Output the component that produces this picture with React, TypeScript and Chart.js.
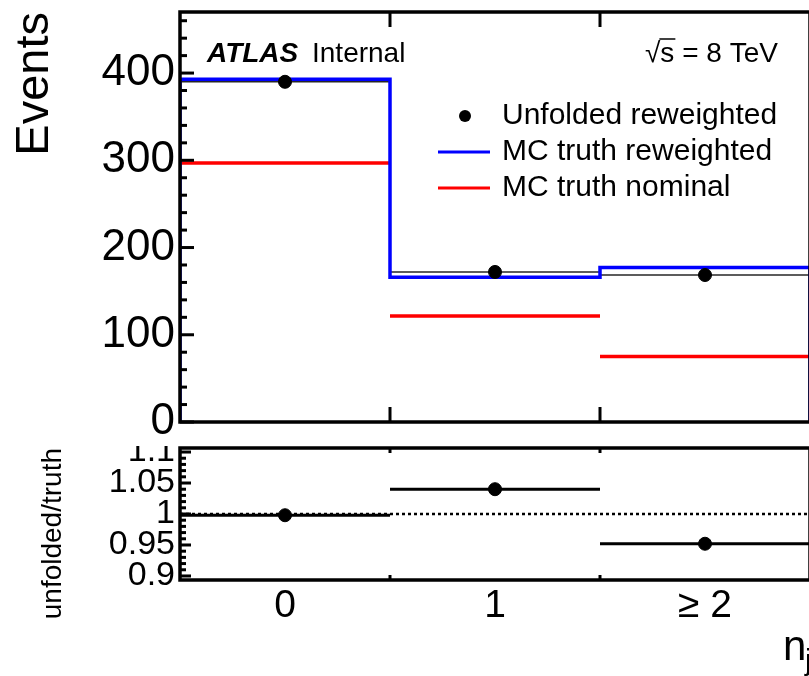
import React, { useEffect, useRef } from "react";
import { Chart, registerables } from "chart.js";
Chart.register(...registerables);

// ---------- data ----------
const binLabels = ["0", "1", "≥ 2"];
const binCenters = [0, 1, 2];
const binEdges = [-0.5, 0.5, 1.5, 2.5];
const unfoldedReweighted = [390, 172, 168.5];
const mcTruthReweighted = [393, 166, 177];
const mcTruthNominal = [297, 121.5, 75];
const ratioValues = [0.998, 1.04, 0.952];
const ratioErrors = [0.002, 0.002, 0.005];
const eventsTicks = [0, 100, 200, 300, 400];
const ratioTicks = [0.9, 0.95, 1, 1.05, 1.1];
const ratioReference = 1;
const seriesNames = ["Unfolded reweighted", "MC truth reweighted", "MC truth nominal"];

const FONT = "'Liberation Sans', Arial, Helvetica, sans-serif";
const BLUE = "#0000ff";
const RED = "#ff0000";

function stepPoints(vals: number[]) {
  const pts: any[] = [{ x: binEdges[0], y: 0 }];
  vals.forEach((v, i) => {
    pts.push({ x: binEdges[i], y: v });
    pts.push({ x: binEdges[i + 1], y: v });
  });
  pts.push({ x: binEdges[binEdges.length - 1], y: 0 });
  return pts;
}

function segmentPoints(vals: number[]) {
  const pts: any[] = [];
  vals.forEach((v, i) => {
    pts.push({ x: binEdges[i], y: v });
    pts.push({ x: binEdges[i + 1], y: v });
    if (i < vals.length - 1) pts.push({ x: binEdges[i + 1], y: null });
  });
  return pts;
}

function vErrPoints(vals: number[], errs: number[]) {
  const pts: any[] = [];
  vals.forEach((v, i) => {
    pts.push({ x: binCenters[i], y: v - errs[i] });
    pts.push({ x: binCenters[i], y: v + errs[i] });
    if (i < vals.length - 1) pts.push({ x: binCenters[i], y: null });
  });
  return pts;
}

function strokeLine(ctx: CanvasRenderingContext2D, x1: number, y1: number, x2: number, y2: number) {
  ctx.beginPath();
  ctx.moveTo(x1, y1);
  ctx.lineTo(x2, y2);
  ctx.stroke();
}

function noPad(s: any) {
  s.paddingTop = 0;
  s.paddingBottom = 0;
  s.paddingLeft = 0;
  s.paddingRight = 0;
}

const topDecor = {
  id: "topDecor",
  afterDatasetsDraw(chart: any) {
    const { ctx, chartArea: a, scales } = chart;
    const x = scales.x;
    const y = scales.y;
    ctx.save();
    ctx.strokeStyle = "#000";
    ctx.lineWidth = 3.5;
    ctx.strokeRect(a.left, a.top, a.right - a.left, a.bottom - a.top);
    ctx.lineWidth = 3;
    for (let v = 0; v <= y.max; v += 20) {
      const py = y.getPixelForValue(v);
      const len = v % 100 === 0 ? 14 : 7;
      strokeLine(ctx, a.left, py, a.left + len, py);
    }
    binEdges.slice(1, -1).forEach((e) => {
      const px = x.getPixelForValue(e);
      strokeLine(ctx, px, a.bottom, px, a.bottom - 15);
      strokeLine(ctx, px, a.top, px, a.top + 15);
    });

    // ATLAS label
    ctx.fillStyle = "#000";
    ctx.textBaseline = "alphabetic";
    ctx.textAlign = "left";
    ctx.font = `italic bold 28px ${FONT}`;
    ctx.fillText("ATLAS", 207, 62);
    ctx.font = `28px ${FONT}`;
    ctx.fillText("Internal", 312, 62);
    ctx.font = `28px ${FONT}`;
    const sx = 645;
    ctx.fillText("√s = 8 TeV", sx, 62);
    const wRad = ctx.measureText("√").width;
    const wRadS = ctx.measureText("√s").width;
    ctx.lineWidth = 1.5;
    strokeLine(ctx, sx + wRad - 1, 39, sx + wRadS + 1, 39);

    // legend
    const rows = [116, 152, 188];
    ctx.font = `30px ${FONT}`;
    ctx.textBaseline = "middle";
    ctx.beginPath();
    ctx.arc(465, rows[0], 6, 0, Math.PI * 2);
    ctx.fill();
    ctx.lineWidth = 3;
    ctx.strokeStyle = BLUE;
    strokeLine(ctx, 438, rows[1], 490, rows[1]);
    ctx.strokeStyle = RED;
    strokeLine(ctx, 438, rows[2], 490, rows[2]);
    seriesNames.forEach((n, i) => ctx.fillText(n, 502, rows[i]));
    ctx.restore();
  },
};

const ratioDecor = {
  id: "ratioDecor",
  afterDatasetsDraw(chart: any) {
    const { ctx, chartArea: a, scales } = chart;
    const x = scales.x;
    const y = scales.y;
    ctx.save();
    ctx.strokeStyle = "#000";
    ctx.lineWidth = 3.5;
    ctx.strokeRect(a.left, a.top, a.right - a.left, a.bottom - a.top);
    ctx.lineWidth = 3;
    for (let k = 90; k <= 110; k += 1) {
      const v = k / 100;
      const py = y.getPixelForValue(v);
      const len = k % 5 === 0 ? 11 : 6;
      strokeLine(ctx, a.left, py, a.left + len, py);
    }
    binEdges.slice(1, -1).forEach((e) => {
      const px = x.getPixelForValue(e);
      strokeLine(ctx, px, a.bottom, px, a.bottom - 5);
      strokeLine(ctx, px, a.top, px, a.top + 5);
    });
    // x-axis title
    ctx.fillStyle = "#000";
    ctx.textAlign = "left";
    ctx.textBaseline = "alphabetic";
    ctx.font = `42px ${FONT}`;
    ctx.fillText("n", 783, 660 - 446);
    ctx.font = `30px ${FONT}`;
    ctx.fillText("jets", 805, 670 - 446);
    ctx.restore();
  },
};

export default function App() {
  const topRef = useRef<HTMLCanvasElement>(null);
  const botRef = useRef<HTMLCanvasElement>(null);

  useEffect(() => {
    const top = new Chart(topRef.current as HTMLCanvasElement, {
      type: "line",
      data: {
        datasets: [
          {
            label: seriesNames[0],
            type: "scatter",
            data: binCenters.map((c, i) => ({ x: c, y: unfoldedReweighted[i] })),
            backgroundColor: "#000",
            borderColor: "#000",
            pointRadius: 6.5,
            showLine: false,
            order: 0,
          } as any,
          {
            label: seriesNames[1],
            data: stepPoints(mcTruthReweighted),
            borderColor: BLUE,
            borderWidth: 3.5,
            pointRadius: 0,
            tension: 0,
            order: 1,
          },
          {
            label: "unfolded bars",
            data: segmentPoints(unfoldedReweighted),
            borderColor: "rgba(0,0,0,0.85)",
            borderWidth: 1.5,
            pointRadius: 0,
            spanGaps: false,
            order: 2,
          },
          {
            label: seriesNames[2],
            data: segmentPoints(mcTruthNominal),
            borderColor: RED,
            borderWidth: 3.5,
            pointRadius: 0,
            spanGaps: false,
            order: 3,
          },
        ],
      },
      options: {
        animation: false,
        responsive: false,
        layout: { padding: { top: 12, bottom: 24, left: 0, right: 40 }, autoPadding: false } as any,
        plugins: { legend: { display: false }, tooltip: { enabled: false } },
        scales: {
          x: { type: "linear", min: -0.5, max: 2.5, display: false },
          y: {
            type: "linear",
            min: 0,
            max: 470,
            afterBuildTicks: (s: any) => {
              s.ticks = eventsTicks.map((v) => ({ value: v }));
            },
            afterFit: (s: any) => {
              s.width = 180;
              noPad(s);
            },
            ticks: {
              font: { family: FONT, size: 44 },
              color: "#000",
              padding: 5,
              autoSkip: false,
              callback: (v: any) => String(v),
            },
            grid: { display: false, drawTicks: false },
            border: { display: false },
            title: {
              display: true,
              text: "Events",
              align: "end",
              color: "#000",
              font: { family: FONT, size: 47 },
              padding: { top: 7, bottom: 0 },
            },
          },
        },
      },
      plugins: [topDecor],
    });

    const bot = new Chart(botRef.current as HTMLCanvasElement, {
      type: "line",
      data: {
        datasets: [
          {
            label: "points",
            type: "scatter",
            data: binCenters.map((c, i) => ({ x: c, y: ratioValues[i] })),
            backgroundColor: "#000",
            borderColor: "#000",
            pointRadius: 6.5,
            showLine: false,
            order: 0,
          } as any,
          {
            label: "xerr",
            data: segmentPoints(ratioValues),
            borderColor: "#000",
            borderWidth: 3,
            pointRadius: 0,
            spanGaps: false,
            order: 1,
          },
          {
            label: "yerr",
            data: vErrPoints(ratioValues, ratioErrors),
            borderColor: "#000",
            borderWidth: 3,
            pointRadius: 0,
            spanGaps: false,
            order: 1,
          },
          {
            label: "ref",
            data: [
              { x: binEdges[0], y: ratioReference },
              { x: binEdges[binEdges.length - 1], y: ratioReference },
            ],
            borderColor: "#000",
            borderWidth: 2.5,
            borderDash: [3, 3],
            pointRadius: 0,
            order: 2,
          },
        ],
      },
      options: {
        animation: false,
        responsive: false,
        layout: { padding: { top: 2, bottom: 0, left: 0, right: 40 }, autoPadding: false } as any,
        plugins: { legend: { display: false }, tooltip: { enabled: false } },
        scales: {
          x: {
            type: "linear",
            min: -0.5,
            max: 2.5,
            afterBuildTicks: (s: any) => {
              s.ticks = binCenters.map((v) => ({ value: v }));
            },
            afterFit: (s: any) => {
              s.height = 96;
              noPad(s);
            },
            ticks: {
              font: { family: FONT, size: 39 },
              color: "#000",
              padding: 3,
              maxRotation: 0,
              autoSkip: false,
              callback: (_v: any, i: number) => binLabels[i],
            },
            grid: { display: false, drawTicks: false },
            border: { display: false },
          },
          y: {
            type: "linear",
            min: 0.8935,
            max: 1.1065,
            afterBuildTicks: (s: any) => {
              s.ticks = ratioTicks.map((v) => ({ value: v }));
            },
            afterFit: (s: any) => {
              s.width = 180;
              noPad(s);
            },
            ticks: {
              font: { family: FONT, size: 34 },
              color: "#000",
              padding: 5,
              autoSkip: false,
              callback: (v: any) => String(v),
            },
            grid: { display: false, drawTicks: false },
            border: { display: false },
            title: {
              display: true,
              text: "unfolded/truth",
              align: "end",
              color: "#000",
              font: { family: FONT, size: 28 },
              padding: { top: 36, bottom: 0 },
            },
          },
        },
      },
      plugins: [ratioDecor],
    });

    return () => {
      top.destroy();
      bot.destroy();
    };
  }, []);

  return (
    <div
      style={{
        position: "absolute",
        left: 0,
        top: 0,
        width: 809,
        height: 676,
        overflow: "hidden",
        background: "#fff",
      }}
    >
      <canvas
        ref={topRef}
        width={850}
        height={446}
        style={{ position: "absolute", left: 0, top: 0, width: 850, height: 446 }}
      />
      <canvas
        ref={botRef}
        width={850}
        height={230}
        style={{ position: "absolute", left: 0, top: 446, width: 850, height: 230 }}
      />
    </div>
  );
}
